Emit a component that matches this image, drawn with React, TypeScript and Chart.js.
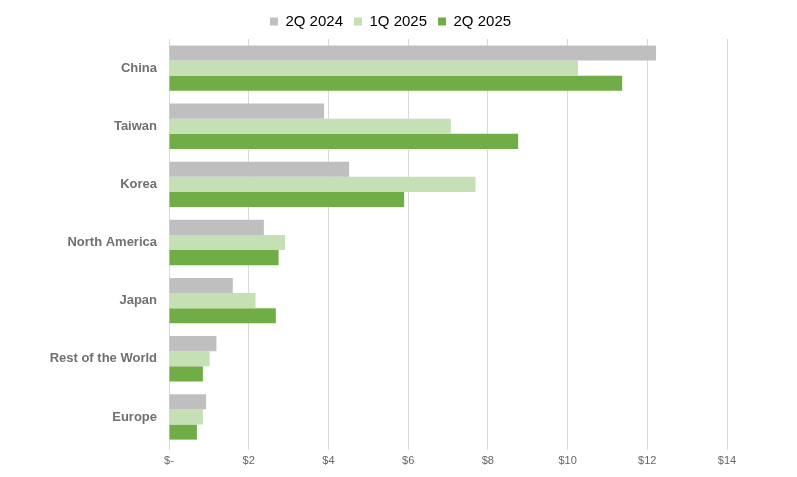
import React, { useEffect, useRef } from "react";
import { Chart, registerables } from "chart.js";

Chart.register(...registerables);

const categories = ["China", "Taiwan", "Korea", "North America", "Japan", "Rest of the World", "Europe"];
const series2Q2024 = [12.22, 3.89, 4.52, 2.38, 1.6, 1.19, 0.93];
const series1Q2025 = [10.26, 7.07, 7.69, 2.91, 2.17, 1.02, 0.85];
const series2Q2025 = [11.37, 8.76, 5.9, 2.75, 2.68, 0.85, 0.7];
const seriesNames = ["2Q 2024", "1Q 2025", "2Q 2025"];
const xTicks = [0, 2, 4, 6, 8, 10, 12, 14];

const legendShift = {
  id: "legendShift",
  afterLayout(chart: any) {
    if (chart.legend) {
      chart.legend.left += 27;
      chart.legend.right += 27;
    }
  },
};

export default function App() {
  const ref = useRef<HTMLCanvasElement | null>(null);
  useEffect(() => {
    document.body.style.margin = "0";
    if (!ref.current) return;
    const chart = new Chart(ref.current, {
      type: "bar",
      data: {
        labels: categories,
        datasets: [
          { label: seriesNames[0], data: series2Q2024, backgroundColor: "#bfbfbf" },
          { label: seriesNames[1], data: series1Q2025, backgroundColor: "#c5e0b4" },
          { label: seriesNames[2], data: series2Q2025, backgroundColor: "#70ad47" },
        ],
      },
      plugins: [legendShift],
      options: {
        indexAxis: "y",
        animation: false,
        responsive: false,
        layout: { padding: { top: 3, right: 70, left: 0, bottom: 0 } },
        datasets: { bar: { categoryPercentage: 0.78, barPercentage: 1.0 } },
        plugins: {
          legend: {
            position: "top",
            labels: {
              boxWidth: 8,
              boxHeight: 8,
              color: "#000",
              font: { family: "Liberation Sans, Arial", size: 15 },
              padding: 11,
            },
          },
          tooltip: { enabled: false },
        },
        scales: {
          x: {
            min: 0,
            max: 14,
            afterBuildTicks: (s: any) => {
              s.ticks = xTicks.map((v) => ({ value: v }));
            },
            afterFit: (s: any) => {
              s.height = 31;
            },
            grid: { color: "#d9d9d9", drawTicks: true, tickLength: 4 },
            border: { display: false },
            ticks: {
              color: "#666666",
              font: { family: "Liberation Sans, Arial", size: 11 },
              padding: 4,
              callback: (v: any) => (Number(v) === 0 ? "$-" : "$" + v),
            },
          },
          y: {
            afterFit: (s: any) => {
              s.width = 169;
            },
            grid: { display: false },
            border: { display: false },
            ticks: {
              color: "#707070",
              font: { family: "Liberation Sans, Arial", size: 13, weight: "bold" },
              padding: 4,
            },
          },
        },
      },
    });
    return () => chart.destroy();
  }, []);
  return (
    <div style={{ width: 797, height: 477 }}>
      <canvas ref={ref} width={797} height={477} style={{ width: 797, height: 477, display: "block" }} />
    </div>
  );
}
